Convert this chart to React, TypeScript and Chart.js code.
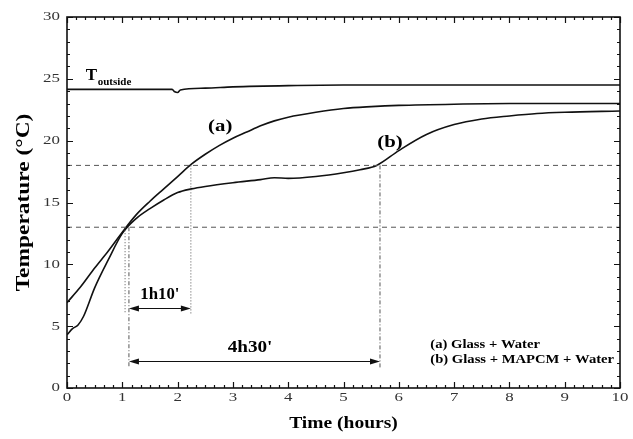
import React, { useEffect, useRef } from "react";
import { Chart, registerables } from "chart.js";

Chart.register(...registerables);

// ---- data ----
const timeA = [0, 0.25, 0.5, 0.75, 1.0, 1.25, 1.5, 1.75, 2.0, 2.25, 2.5, 2.75, 3.0, 3.25, 3.5, 3.75, 4.0, 4.5, 5.0, 5.5, 6.0, 7.0, 8.0, 9.0, 10.0];
const tempA = [6.9, 8.2, 9.7, 11.1, 12.6, 14.0, 15.1, 16.1, 17.1, 18.1, 18.9, 19.6, 20.2, 20.7, 21.2, 21.6, 21.9, 22.3, 22.6, 22.75, 22.85, 22.95, 23.0, 23.0, 23.0];

const timeB = [0, 0.1, 0.2, 0.3, 0.5, 0.75, 1.0, 1.25, 1.5, 1.75, 2.0, 2.25, 2.5, 3.0, 3.5, 3.75, 4.0, 4.5, 5.0, 5.3, 5.6, 6.0, 6.5, 7.0, 7.5, 8.0, 8.5, 9.0, 10.0];
const tempB = [4.3, 4.8, 5.1, 5.8, 8.1, 10.4, 12.5, 13.7, 14.5, 15.2, 15.8, 16.1, 16.3, 16.6, 16.85, 17.0, 16.95, 17.1, 17.4, 17.65, 18.0, 19.2, 20.5, 21.3, 21.75, 22.0, 22.2, 22.3, 22.4];

const timeOut = [0, 1.0, 1.9, 1.95, 2.0, 2.05, 2.5, 3.0, 4.0, 5.0, 6.0, 8.0, 10.0];
const tempOut = [24.15, 24.15, 24.15, 23.95, 23.9, 24.1, 24.25, 24.35, 24.45, 24.5, 24.5, 24.5, 24.5];

const xTickValues = [0, 1, 2, 3, 4, 5, 6, 7, 8, 9, 10];
const yTickValues = [0, 5, 10, 15, 20, 25, 30];

const refLevels = [13, 18];
// vertical guides: [time, top temperature, bottom temperature]
const dottedGuides = [[1.05, 13, 6], [2.24, 18, 6]];
const dashDotGuides = [[1.12, 13, 1.6], [5.66, 18, 1.6]];
// arrows: [from time, to time, temperature]
const arrows = [[1.12, 2.24, 6.5], [1.12, 5.66, 2.2]];

const xTitle = "Time (hours)";
const yTitle = "Temperature (°C)";
const labelA = "(a)";
const labelB = "(b)";
const legendLines = ["(a) Glass + Water", "(b) Glass + MAPCM + Water"];

const toPts = (xs: number[], ys: number[]) => xs.map((x, i) => ({ x, y: ys[i] }));

const SERIF = "'Liberation Serif', 'Times New Roman', serif";

function txt(ctx: any, s: string, x: number, y: number, font: string, align: string, sx: number, color = "#000", rot = 0) {
  ctx.save();
  ctx.translate(x, y);
  if (rot) ctx.rotate(rot);
  ctx.scale(sx, 1);
  ctx.font = font;
  ctx.fillStyle = color;
  ctx.textAlign = align;
  ctx.textBaseline = "middle";
  ctx.fillText(s, 0, 0);
  ctx.restore();
}

const overlayPlugin = {
  id: "overlay",
  afterDatasetsDraw(chart: any) {
    const { ctx, chartArea, scales } = chart;
    const xs = scales.x;
    const ys = scales.y;
    const { left, right, top, bottom } = chartArea;
    ctx.save();
    ctx.strokeStyle = "#111";
    ctx.fillStyle = "#111";

    // ticks (inward) on all four sides
    ctx.lineWidth = 1.2;
    for (let i = 0; i <= 60; i++) {
      const v = i / 6;
      const px = Math.round(xs.getPixelForValue(v)) + 0.5;
      const len = i % 6 === 0 ? 6 : 3;
      ctx.beginPath();
      ctx.moveTo(px, bottom);
      ctx.lineTo(px, bottom - len);
      ctx.moveTo(px, top);
      ctx.lineTo(px, top + len);
      ctx.stroke();
    }
    for (let v = 0; v <= 30; v++) {
      const py = Math.round(ys.getPixelForValue(v)) + 0.5;
      const len = v % 5 === 0 ? 6 : 3;
      ctx.beginPath();
      ctx.moveTo(left, py);
      ctx.lineTo(left + len, py);
      ctx.moveTo(right, py);
      ctx.lineTo(right - len, py);
      ctx.stroke();
    }
    // frame
    ctx.lineWidth = 1.6;
    ctx.strokeRect(left, top, right - left, bottom - top);

    // arrows
    ctx.lineWidth = 1;
    arrows.forEach(([t0, t1, temp]) => {
      const x0 = xs.getPixelForValue(t0);
      const x1 = xs.getPixelForValue(t1);
      const y = Math.round(ys.getPixelForValue(temp)) + 0.5;
      ctx.beginPath();
      ctx.moveTo(x0 + 4, y);
      ctx.lineTo(x1 - 4, y);
      ctx.stroke();
      const head = (xt: number, dir: number) => {
        ctx.beginPath();
        ctx.moveTo(xt, y);
        ctx.lineTo(xt - dir * 10, y - 3);
        ctx.lineTo(xt - dir * 10, y + 3);
        ctx.closePath();
        ctx.fill();
      };
      head(x0, -1);
      head(x1, 1);
    });
    ctx.restore();

    // tick labels
    const tickFont = `13px ${SERIF}`;
    xTickValues.forEach((v) => {
      txt(ctx, String(v), xs.getPixelForValue(v), bottom + 10, tickFont, "center", 1.3, "#333");
    });
    yTickValues.forEach((v) => {
      txt(ctx, String(v), left - 7, ys.getPixelForValue(v), tickFont, "right", 1.3, "#333");
    });

    // axis titles
    txt(ctx, xTitle, (left + right) / 2, 424, `bold 16px ${SERIF}`, "center", 1.22);
    txt(ctx, yTitle, 24, (top + bottom) / 2, `bold 18px ${SERIF}`, "center", 1.3, "#000", -Math.PI / 2);

    // T outside
    ctx.save();
    ctx.fillStyle = "#000";
    ctx.textBaseline = "alphabetic";
    ctx.textAlign = "left";
    ctx.font = `bold 17px ${SERIF}`;
    const tx = xs.getPixelForValue(0.34);
    const ty = ys.getPixelForValue(24.9);
    ctx.fillText("T", tx, ty);
    const tw = ctx.measureText("T").width;
    ctx.font = `bold 11px ${SERIF}`;
    ctx.fillText("outside", tx + tw + 0.5, ty + 5);
    ctx.restore();

    // curve labels & intervals
    txt(ctx, labelA, xs.getPixelForValue(2.77), ys.getPixelForValue(21.1), `bold 16px ${SERIF}`, "center", 1.3);
    txt(ctx, labelB, xs.getPixelForValue(5.84), ys.getPixelForValue(19.8), `bold 16px ${SERIF}`, "center", 1.3);
    txt(ctx, "1h10'", xs.getPixelForValue(1.68), ys.getPixelForValue(7.5), `bold 16px ${SERIF}`, "center", 1.05);
    txt(ctx, "4h30'", xs.getPixelForValue(3.31), ys.getPixelForValue(3.25), `bold 16px ${SERIF}`, "center", 1.2);

    // legend text
    const legX = xs.getPixelForValue(6.57);
    txt(ctx, legendLines[0], legX, ys.getPixelForValue(3.45), `bold 12px ${SERIF}`, "left", 1.22);
    txt(ctx, legendLines[1], legX, ys.getPixelForValue(2.3), `bold 12px ${SERIF}`, "left", 1.22);
  },
};

export default function App() {
  const ref = useRef<HTMLCanvasElement | null>(null);
  useEffect(() => {
    if (!ref.current) return;
    const curve = (data: any[]) => ({
      data,
      borderColor: "#111",
      borderWidth: 1.6,
      pointRadius: 0,
      showLine: true,
      fill: false,
      cubicInterpolationMode: "monotone" as const,
    });
    const guide = (data: any[], dash: number[]) => ({
      data,
      borderColor: "#555",
      borderWidth: 1,
      borderDash: dash,
      pointRadius: 0,
      showLine: true,
      fill: false,
    });
    const datasets: any[] = [
      ...refLevels.map((lv) => guide([{ x: 0, y: lv }, { x: 10, y: lv }], [5, 4])),
      ...dottedGuides.map(([t, a, b]) => guide([{ x: t, y: a }, { x: t, y: b }], [1, 2])),
      ...dashDotGuides.map(([t, a, b]) => guide([{ x: t, y: a }, { x: t, y: b }], [4, 2, 1, 2])),
      curve(toPts(timeOut, tempOut)),
      curve(toPts(timeA, tempA)),
      curve(toPts(timeB, tempB)),
    ];
    const chart = new Chart(ref.current, {
      type: "scatter",
      data: { datasets },
      options: {
        animation: false,
        responsive: false,
        maintainAspectRatio: false,
        layout: { padding: { top: 17, right: 13, left: 0, bottom: 0 } },
        plugins: { legend: { display: false }, tooltip: { enabled: false } },
        scales: {
          x: {
            type: "linear",
            min: 0,
            max: 10,
            afterFit: (s: any) => { s.height = 51; },
            afterBuildTicks: (s: any) => { s.ticks = xTickValues.map((v) => ({ value: v })); },
            grid: { display: false, drawTicks: false },
            border: { display: false },
            ticks: { display: false },
            title: { display: false },
          },
          y: {
            type: "linear",
            min: 0,
            max: 30,
            afterFit: (s: any) => { s.width = 67; },
            afterBuildTicks: (s: any) => { s.ticks = yTickValues.map((v) => ({ value: v })); },
            grid: { display: false, drawTicks: false },
            border: { display: false },
            ticks: { display: false },
            title: { display: false },
          },
        },
      },
      plugins: [overlayPlugin],
    } as any);
    return () => chart.destroy();
  }, []);
  return (
    <div style={{ position: "absolute", left: 0, top: 0, width: 633, height: 439, background: "#fff" }}>
      <canvas ref={ref} width={633} height={439} style={{ display: "block", width: 633, height: 439 }} />
    </div>
  );
}
